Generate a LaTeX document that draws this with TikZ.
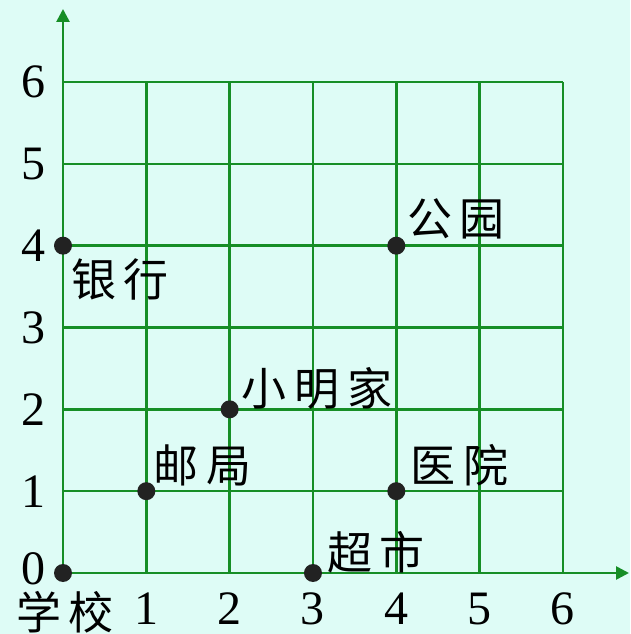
\documentclass[tikz,border=0pt]{standalone}
\usepackage{fontspec}
\usepackage{tikz}
\usetikzlibrary{positioning,arrows.meta}
\setmainfont{Liberation Serif}
\newfontfamily\cjk[LetterSpace=17]{Noto Sans CJK SC}
\definecolor{paper}{RGB}{222,252,246}
\definecolor{gridgreen}{RGB}{22,142,38}
\definecolor{dotgray}{RGB}{34,34,34}
\tikzset{
  gridline/.style={draw=gridgreen, line width=2.6pt},
  axisline/.style={draw=gridgreen, line width=2.6pt, -{Triangle[length=13pt,width=13pt]}},
  spot/.style={circle, fill=dotgray, minimum size=18pt, inner sep=0pt},
  placename/.style={font=\cjk\fontsize{45}{45}\selectfont, inner sep=0pt},
  xnum/.style={font=\fontsize{48}{48}\selectfont, inner sep=0pt, anchor=north, yshift=-20pt},
  ynum/.style={font=\fontsize{48}{48}\selectfont, inner sep=0pt, anchor=east, xshift=-17pt}
}
\newcommand{\mapspot}[2] {\node at (#1) (#2) [spot] {};}
\newcommand{\xtick}[1] {\node at (#1,0) (x#1) [xnum] {#1};}
\newcommand{\ytick}[1] {\node at (0,#1) (y#1) [ynum] {#1};}
\begin{document}
\begin{tikzpicture}[x=83.33pt, y=81.83pt]

\fill [paper] (-63pt,-61pt) rectangle (567pt,573pt);
\useasboundingbox (-63pt,-61pt) rectangle (567pt,573pt);

\draw [gridline, step=1] (0,0) grid (6,6);

\coordinate (origin) at (0,0);
\coordinate (xend) at (566pt,0);
\coordinate (yend) at (0,564pt);
\draw [axisline] (origin) -- (xend);
\draw [axisline] (origin) -- (yend);

\xtick{1} \xtick{2} \xtick{3} \xtick{4} \xtick{5} \xtick{6}
\node at (0,0) (y0) [ynum, yshift=4pt] {0};
\ytick{1} \ytick{2} \ytick{3} \ytick{4} \ytick{5} \ytick{6}

\mapspot{0,0}{school};
\mapspot{0,4}{bank};
\mapspot{4,4}{park};
\mapspot{2,2}{home};
\mapspot{1,1}{post};
\mapspot{4,1}{hospital};
\mapspot{3,0}{market};

\node [placename, below=9pt of school, xshift=2pt] (schoolname) {学校};
\node [placename, below right=6.6pt and 1.6pt of bank] (bankname) {银行};
\node [placename, above right=0pt and 4pt of park] (parkname) {公园};
\node [placename, above right=-7pt and 5.6pt of home] (homename) {小明家};
\node [placename, above right=-1.4pt and 0.6pt of post] (postname) {邮局};
\node [placename, above right=-1.4pt and 7.6pt of hospital] (hospitalname) {医院};
\node [placename, above right=-7pt and 7.6pt of market] (marketname) {超市};

\end{tikzpicture}
\end{document}
